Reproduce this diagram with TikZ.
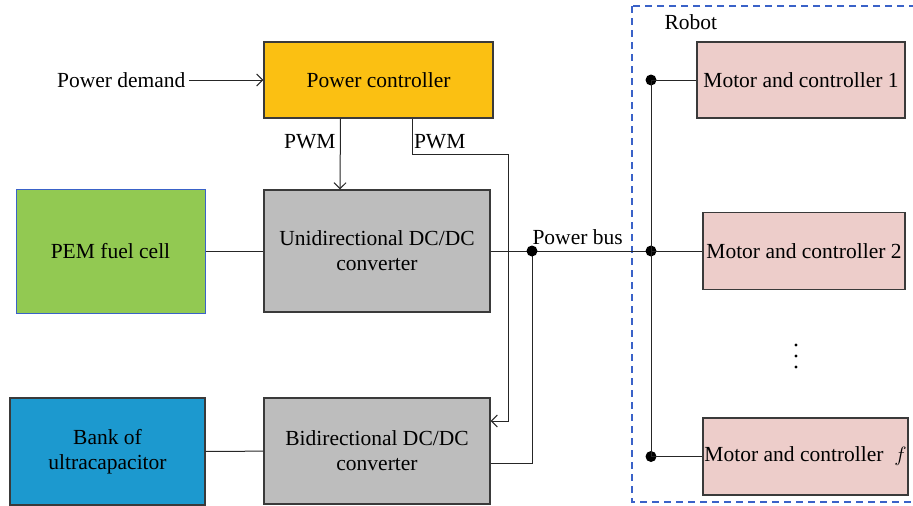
\documentclass[tikz,border=0pt]{standalone}
\usepackage{fontspec}
\setmainfont{Liberation Serif}
\usetikzlibrary{arrows.meta, positioning, calc}
\definecolor{pcOrange}{HTML}{FBC012}
\definecolor{convGray}{HTML}{BDBDBD}
\definecolor{pemGreen}{HTML}{92C952}
\definecolor{ucBlue}{HTML}{1C99CF}
\definecolor{motorPink}{HTML}{EDCDCA}
\definecolor{edgeGray}{HTML}{3A3A3A}
\definecolor{robotBlue}{HTML}{3A62C8}

\tikzset{
  blockbox/.style={draw=edgeGray, line width=1.3pt, align=center, inner sep=0pt},
  wire/.style={draw=black!85, line width=1pt},
  sig/.style={wire, -{Straight Barb[length=6pt, width=12pt]}},
  junc/.style={circle, fill=black, inner sep=0pt, minimum size=11pt}
}

\begin{document}
\begin{tikzpicture}[x=1pt, y=-1pt, every node/.style={font=\fontsize{21.5}{25}\selectfont}]
  \useasboundingbox (0,0) rectangle (913,506);
  % Robot frame
  \draw[robotBlue, line width=1.1pt, dash pattern=on 7pt off 5pt] (632,6) rectangle (920,502);
  \node[anchor=west] (robot) at (661,22) {Robot};
  % Blocks
  \node[blockbox, fill=pcOrange, minimum width=229pt, minimum height=76pt] (pc) at (378.5,80) {Power controller};
  \node[blockbox, fill=convGray, minimum width=226pt, minimum height=122pt] (uni) at (377,251) {Unidirectional DC/DC\\converter};
  \node[blockbox, fill=convGray, minimum width=226pt, minimum height=106pt] (bi) at (377,451) {Bidirectional DC/DC\\converter};
  \node[blockbox, fill=pemGreen, draw=robotBlue, line width=1pt, minimum width=189pt, minimum height=124pt] (pem) at (110.5,251) {PEM fuel cell};
  \node[blockbox, fill=ucBlue, minimum width=195pt, minimum height=107pt] (uc) at (107.5,451.5) {Bank of\\ultracapacitor};
  \node[blockbox, fill=motorPink, minimum width=208pt, minimum height=76pt] (m1) at (801,80) {Motor and controller 1};
  \node[blockbox, fill=motorPink, minimum width=202pt, minimum height=77pt] (m2) at (804,251) {Motor and controller 2};
  \node[blockbox, fill=motorPink, minimum width=205pt, minimum height=77pt] (mf) at (805.5,456.5) {Motor and controller \ $f$};
  % Ellipsis between motors
  \foreach \y in {345,356,367}
    \fill (796,\y) circle (1.6pt);
  % Inputs and signals
  \node[anchor=east] (demand) at (189,80) {Power demand};
  \draw[sig] (demand) -- (pc);
  \draw[sig] ([xshift=-38pt]pc.south) -- ([xshift=-37pt]uni.north)
    node[pos=0.33, left=1pt] {PWM};
  \draw[sig] ([xshift=34pt]pc.south) |- (508,154) -- (508,421) -- ([yshift=30pt]bi.east);
  \node[anchor=west] (pwm2) at ([xshift=32pt, yshift=-23pt]pc.south) {PWM};
  % Power connections
  \draw[wire] (pem) -- (uni);
  \draw[wire] (uc) -- (bi);
  \coordinate (pb) at (532,251);
  \coordinate (rb) at (651,251);
  \draw[wire] (uni.east) -- (rb);
  \node[anchor=south west, xshift=-3pt, yshift=3pt] (pblab) at (pb) {Power bus};
  \draw[wire] ([yshift=-12pt]bi.east) -| (pb);
  \node[junc] (j0) at (pb) {};
  % Robot bus
  \node[junc] (j1) at (m1.west -| rb) {};
  \node[junc] (j2) at (rb) {};
  \node[junc] (jf) at (mf.west -| rb) {};
  \draw[wire] (j1.center) -- (jf.center);
  \draw[wire] (j1.center) -- (m1.west);
  \draw[wire] (j2.center) -- (m2.west);
  \draw[wire] (jf.center) -- (mf.west);
\end{tikzpicture}
\end{document}
